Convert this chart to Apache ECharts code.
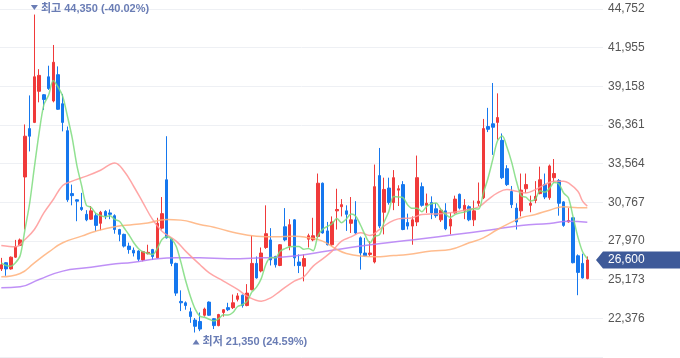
<!DOCTYPE html>
<html><head><meta charset="utf-8">
<script src="https://cdn.jsdelivr.net/npm/echarts/dist/echarts.min.js"></script>
<style>html,body{margin:0;padding:0;background:#fff}#c{width:680px;height:358px}</style>
</head><body><div id="c"></div>
<script>
// Daily candles (left = oldest). Korean colouring: red = up, blue = down.
const opens = [25950,26400,25950,26800,27650,32600,36100,36550,38800,38550,39850,38100,40000,37900,35950,31400,30950,30400,29900,29550,
29800,29250,30100,30000,29800,28800,28450,27600,27300,27250,26600,27050,27350,26750,28900,32400,28100,26350,23600,23500,
22850,22250,22150,22600,23550,22350,21850,22800,23150,23150,23750,24050,23300,24450,26350,25800,27500,28050,26850,26200,
29000,27600,29500,26450,26150,28100,28050,28300,32150,28700,27700,30150,30450,30150,29250,29500,28200,27100,27000,26450,
32700,30050,31800,30750,31650,32050,29300,29050,29350,31900,30550,30750,30300,29500,30150,29050,30000,31350,30150,30450,
29500,30700,31100,36250,36450,36550,35250,33200,31550,30350,30150,31750,30550,30900,31400,32050,31100,32550,32350,30800,
29350,29650,26900,26350,25250];
const closes = [26250,25950,26800,27550,28050,35550,35550,39850,39950,38200,39000,40900,37500,36550,30950,31250,30850,30250,29500,30150,
29100,30050,29800,29900,28800,28450,27600,27350,27100,26650,27200,27150,26850,29250,29950,28200,26350,24200,23500,23300,
22500,21800,21600,23050,22600,21850,22650,23000,23000,23500,24000,23300,24200,26350,25300,27100,28500,26600,26250,27700,
28050,29150,26750,26200,26700,28350,28350,32150,28550,27700,29350,30250,30600,29900,29500,28550,27100,26900,27100,31900,
29050,31700,30750,32550,31750,28800,29050,29500,32550,30550,30700,30000,29800,30200,28850,29550,31000,30350,30550,29500,
30150,30850,36100,36050,36200,36900,32550,32050,30600,29350,31650,32050,30700,31200,32400,31150,33400,32850,30700,29100,
29450,26400,25700,25300,26600];
const lows = [25800,25450,25900,26750,27600,28800,34450,36500,38000,37450,38900,38000,37450,35900,30800,30550,29400,30150,29400,29500,
28700,28750,29550,29550,28500,27950,27500,27050,26850,26500,26500,27000,26600,26700,28800,28150,26150,24000,22900,23000,
22050,21350,21450,22500,22550,21600,21800,22500,22900,23050,23600,23150,23250,24400,25250,25700,27400,26200,26050,26150,
27950,27300,26150,25650,25050,27500,27950,28200,28500,27650,27600,28800,29750,28700,28550,28450,25900,26850,26850,26350,
28900,28450,30600,30200,30500,28750,28800,27700,29050,30450,30000,29550,29650,29350,28750,28450,29950,30250,29550,29400,
29050,30500,31000,35850,34200,35300,32450,31950,30350,28800,29750,31450,30050,30700,31350,31000,30950,32200,29800,29000,
29300,26350,24050,25250,25200];
const highs = [26750,26450,26850,28050,28150,36400,38500,44350,40400,38600,40650,42150,40600,38600,36250,32050,31000,31450,30200,30500,
30000,30150,30200,30250,29900,28850,28500,27850,27500,27300,27250,27700,27400,29650,31150,35550,28150,26400,24400,23600,
23150,22400,22800,23150,23600,22400,22700,23050,23500,24100,24200,24100,24850,28350,26850,27500,30550,28900,26900,27750,
30350,29550,29550,27000,27000,28500,29650,32850,32200,29350,29750,31750,31000,30550,31150,30850,28300,28200,27950,33500,
34700,32550,32550,33100,32000,32300,29950,29750,34150,32200,31400,31200,30700,30350,30700,30000,31250,31400,31000,30550,
30900,32200,36800,37600,39400,38650,35750,33450,31950,30700,32850,32850,31250,32300,33350,32850,33500,33900,32450,30850,
30350,29700,27000,27050,26850];

// Moving averages
const ma5 = [26390,26200,26150,26390,26920,28780,30700,33310,35790,37820,38510,39580,39110,38430,36980,35430,33420,31970,30560,30400,
29970,29810,29720,29800,29530,29400,28910,28420,27860,27430,27180,27090,26990,27420,28080,28280,28120,27590,26440,25110,
23970,23060,22540,22450,22310,22180,22350,22630,22620,22800,23230,23360,23600,24270,24630,25250,26290,26770,26750,27230,
27420,27550,27580,27570,27370,27430,27270,28350,28820,29020,29220,29600,29290,29560,29920,29760,29130,28390,27830,28310,
28410,29330,30100,31190,31160,31110,30580,30330,30330,30090,30470,30660,30720,30250,29910,29680,29880,29990,30060,30190,
30310,30280,31430,32530,33870,35220,35560,34750,33660,32290,31240,31140,30870,30990,31600,31500,31770,32200,32100,31440,
31100,29700,28270,27190,26690];
const ma20Idx = [0,3,5,7,9,11,13,15,18,21,24,26,28,30,32,34,37,39,42,44,47,50,52,55,57,59,62,64,66,68,70,72,74,76,78,80,82,84,87,89,92,95,98,101,103,105,107,109,111,113,115,117,119,120,122,123,124];
const ma20Val = [27650,27550,28080,28800,30000,30970,31980,32300,32660,33090,33620,33020,31930,30730,29530,28680,27960,27240,26270,25670,25070,24470,23980,23620,23860,24350,25070,25380,26150,26680,27240,27960,28270,28560,28370,28800,29280,29570,29650,29890,29930,30010,30200,30440,30970,31450,31690,31570,31450,31690,32050,32300,32300,32170,31570,30850,30490];
const ma60Idx = [0,4,7,10,13,17,20,24,28,31,35,38,42,45,49,54,58,62,65,68,71,73,76,79,83,86,91,95,99,102,105,108,110,113,116,119,122,124];
const ma60Val = [25380,25620,26390,27160,27840,28320,28680,29000,29160,29280,29530,29480,29160,28970,28610,28320,28270,28320,28200,27960,27360,27070,26880,26830,26920,27000,27240,27360,27840,28200,28800,29330,29650,29890,30200,30440,30370,30370];
const ma120Idx = [0,4,8,13,18,23,28,33,37,42,48,55,62,69,76,83,89,96,103,110,116,120,124];
const ma120Val = [24590,24660,25190,25790,26030,26270,26440,26680,26750,26750,26680,26750,26880,27240,27600,27890,28130,28440,28750,29090,29240,29400,29330];

// Y axis ticks
const yMin = 19579, yMax = 44752, yStep = 2797;
const lastPrice = closes[closes.length - 1];

const colUp = '#f03a3a', colDown = '#1577ee';
const candleData = opens.map((o, i) => [i, o, closes[i], lows[i], highs[i]]);
const pair = (idx, val) => idx.map((x, k) => [x, val[k]]);

let hiIdx = 0, loIdx = 0;
highs.forEach((h, i) => { if (h > highs[hiIdx]) hiIdx = i; });
lows.forEach((l, i) => { if (l < lows[loIdx]) loIdx = i; });
const fmt = v => v.toLocaleString('en-US');
const pct = v => ((lastPrice / v - 1) * 100).toFixed(2);
const annoColor = '#6a7db5';
const annoLabel = {
  show: true, position: 'right', distance: 3, color: annoColor, fontSize: 11, fontWeight: 'bold',
  fontFamily: '"Liberation Sans", "Noto Sans CJK KR"'
};

const chart = echarts.init(document.getElementById('c'), null, { renderer: 'canvas' });
const lineSeries = (name, data, color, smooth) => ({
  name, type: 'line', data, smooth, showSymbol: false, silent: true, z: 3,
  lineStyle: { color, width: 1.5, opacity: 0.85 }
});
chart.setOption({
  animation: false,
  grid: { left: 0, right: 77, top: 9, bottom: 1 },
  xAxis: { type: 'value', min: -0.275, max: 127.32, show: false },
  yAxis: {
    type: 'value', position: 'right', min: yMin, max: yMax, interval: yStep,
    axisLine: { show: false }, axisTick: { show: false },
    axisLabel: { margin: 5, color: '#555', fontSize: 12, fontFamily: 'Liberation Sans',
      showMinLabel: false, showMaxLabel: true, formatter: v => fmt(v) },
    splitLine: { lineStyle: { color: '#eef0f4', width: 1 } }
  },
  series: [
    {
      type: 'candlestick', data: candleData, encode: { x: 0, y: [1, 2, 3, 4] },
      barWidth: 3, z: 2,
      itemStyle: { color: colUp, color0: colDown, borderColor: colUp, borderColor0: colDown, borderWidth: 1 },
      markPoint: {
        symbol: 'triangle', symbolSize: [7, 5], silent: true,
        itemStyle: { color: annoColor },
        data: [
          { coord: [hiIdx, highs[hiIdx]], symbolRotate: 180, symbolOffset: [0, -7],
            label: Object.assign({}, annoLabel, { formatter: '최고 ' + fmt(highs[hiIdx]) + ' (' + pct(highs[hiIdx]) + '%)', offset: [0, 1] }) },
          { coord: [loIdx, lows[loIdx]], symbolOffset: [1, 9.5],
            label: Object.assign({}, annoLabel, { formatter: '최저 ' + fmt(lows[loIdx]) + ' (' + pct(lows[loIdx]) + '%)', offset: [0, 0] }) }
        ]
      }
    },
    lineSeries('MA120', pair(ma120Idx, ma120Val), '#b47cf4', 0.5),
    lineSeries('MA60', pair(ma60Idx, ma60Val), '#ffb07a', 0.5),
    lineSeries('MA20', pair(ma20Idx, ma20Val), '#ff9696', 0.4),
    lineSeries('MA5', ma5.map((v, i) => [i, v]), '#7edc7e', 0.3)
  ]
});

const yPix = chart.convertToPixel({ yAxisIndex: 0 }, lastPrice);
const gx = 680 - 77;
chart.setOption({
  graphic: [
    { type: 'polygon', z: 100, shape: { points: [[gx - 7, yPix], [gx, yPix - 8.5], [680, yPix - 8.5], [680, yPix + 8.5], [gx, yPix + 8.5]] },
      style: { fill: '#3e5a99' } },
    { type: 'text', z: 101, x: gx + 5, y: yPix, style: { text: fmt(lastPrice), fill: '#fff', font: '12px "Liberation Sans"', textVerticalAlign: 'middle' } }
  ]
});
</script></body></html>
